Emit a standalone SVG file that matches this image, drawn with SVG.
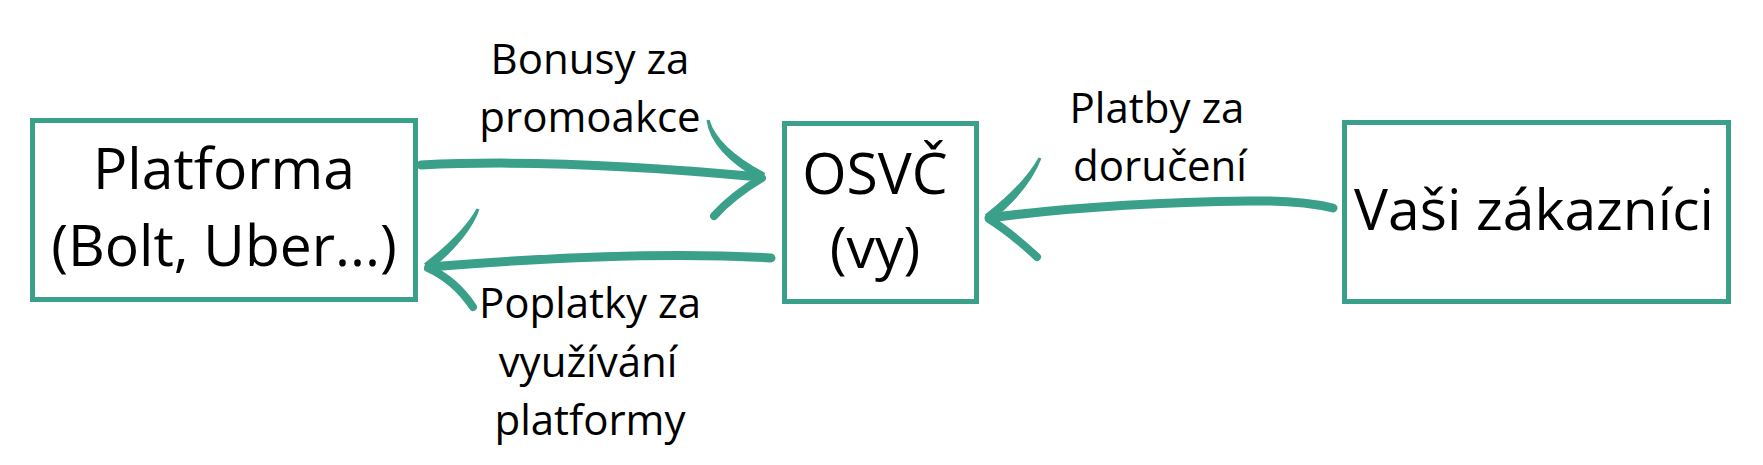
<svg xmlns="http://www.w3.org/2000/svg" width="1763" height="465" viewBox="0 0 1763 465">
<style>
.box{fill:#ffffff;stroke:#3ba08a;stroke-width:5}
.nt{font-family:"Open Sans","Noto Sans",sans-serif;font-size:57px;fill:#000;text-anchor:middle}
.lt{font-family:"Open Sans","Noto Sans",sans-serif;font-size:42px;fill:#000;text-anchor:middle}
.br{fill:none;stroke:#3ba08a;stroke-linecap:round;stroke-linejoin:round}
.bf{fill:#3ba08a}
</style>
<rect width="1763" height="465" fill="#ffffff"/>
<g id="node-platforma">
<rect class="box" x="32.5" y="120.5" width="383" height="179"/>
<text class="nt" x="224" y="189">Platforma</text>
<text class="nt" x="224" y="266">(Bolt, Uber...)</text>
</g>
<g id="node-osvc">
<rect class="box" x="784.5" y="123.5" width="192" height="178"/>
<text class="nt" x="875" y="194">OSVČ</text>
<text class="nt" x="875" y="268">(vy)</text>
</g>
<g id="node-zakaznici">
<rect class="box" x="1344.5" y="122.5" width="384" height="179"/>
<text class="nt" x="1534" y="230">Vaši zákazníci</text>
</g>
<g id="connectors">
<g id="edge-bonusy">
<path class="br" stroke-width="9" d="M421,165 Q560,158 760,177"/>
<path class="bf" d="M706.5,120.3 Q710.5,152.5 760.8,181 L765.2,173 Q717.5,147.5 709.5,119.7 Z"/>
<path class="br" stroke-width="8" d="M762,178 Q733,195 714,216"/>
</g>
<g id="edge-poplatky">
<path class="br" stroke-width="9" d="M771,258 Q640,250 429,267"/>
<path class="bf" d="M476.6,208.4 Q462.7,233.5 424,263.5 L430,270.5 Q469.3,238.5 479.4,209.6 Z"/>
<path class="br" stroke-width="8" d="M428,268 Q455,280 473,307"/>
</g>
<g id="edge-platby">
<path class="br" stroke-width="9" d="M1333,208 Q1300,200 1250,201 Q1100,203 989,218"/>
<path class="bf" d="M1038.6,157.4 Q1022.7,185.4 985,214.5 L991,221.5 Q1029.3,190.6 1041.4,158.6 Z"/>
<path class="br" stroke-width="8" d="M989,219 Q1010,232 1037,257"/>
</g>
</g>
<g id="labels">
<text class="lt" x="590" y="74">Bonusy za</text>
<text class="lt" x="590" y="132">promoakce</text>
<text class="lt" x="590" y="318">Poplatky za</text>
<text class="lt" x="588" y="377">využívání</text>
<text class="lt" x="590" y="435">platformy</text>
<text class="lt" x="1157" y="123">Platby za</text>
<text class="lt" x="1160" y="181">doručení</text>
</g>
</svg>
